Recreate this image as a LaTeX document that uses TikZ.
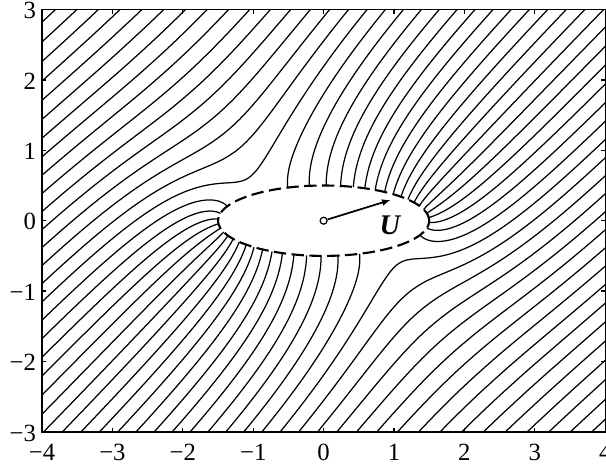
\documentclass[tikz,border=0pt]{standalone}
\usepackage{fontspec}
\setmainfont{Liberation Serif}
\usetikzlibrary{arrows.meta}

%dati del moto: V=e^{i45}, U=3e^{i17.2}, ellisse a=1.5 b=0.5
\pgfmathsetmacro\Uang{17.2}
\pgfmathsetmacro\Ure{3*cos(\Uang)}
\pgfmathsetmacro\Uim{3*sin(\Uang)}
\pgfmathsetmacro\Cre{0.70711-\Ure+0.5*\Ure}
\pgfmathsetmacro\Cim{0.70711-\Uim-0.5*\Uim}
\pgfmathsetmacro\Cq{\Cre*\Cre+\Cim*\Cim}
\pgfmathsetmacro\Ek{-2*0.70711*(\Cim+\Cre)}
\pgfmathsetmacro\Kq{1+\Cq+\Ek}
\def\rmax{5.6}

\tikzset{
  flowline/.style={line width=0.5pt},
  frame/.style={line width=0.5pt},
  ticklab/.style={inner sep=0pt, font=\fontsize{10}{12}\selectfont},
  body/.style={line width=0.85pt, dash pattern=on 5pt off 2.2pt},
  vec/.style={line width=0.7pt, -{Latex[length=3.6pt,width=2.8pt]}},
  declare function={
    PP(\w)=-0.70711*\w+\Cim/\w;
    QQ(\w)=0.70711*\w-\Cre/\w;
    th(\w)=atan2(QQ(\w),PP(\w))+\br*acos(max(-1,min(1,\lev/sqrt(\w*\w+\Cq/(\w*\w)+\Ek))));
  }
}

\begin{document}
\begin{tikzpicture}
    \useasboundingbox (-4.597,-3.513) rectangle (4.011,3.135);
    %linee di corrente
    \begin{scope}
    \clip (-4,-3) rectangle (4,3);
    \foreach \k in {-25,...,25}{
      \pgfmathsetmacro\lev{0.2*\k}
      \pgfmathsetmacro\levq{\lev*\lev}
      \ifdim\levq pt>\Kq pt
        \pgfmathsetmacro\rz{sqrt(((\levq-\Ek)+sqrt((\levq-\Ek)^2-4*\Cq))/2)}
      \else
        \def\rz{1}
      \fi
      \pgfmathsetmacro\T{sqrt(\rmax-\rz)}
      \foreach \br in {-1,1}{
        \draw[flowline] plot[domain=0:\T, samples=60, variable=\t]
          ({th(\rz+\t*\t)}:{\rz+\t*\t+0.5/(\rz+\t*\t)} and {\rz+\t*\t-0.5/(\rz+\t*\t)});
      }
    }
    \end{scope}
    %ellisse
    \draw[body] (0,0) ellipse [x radius=1.5, y radius=0.5];
    %velocita
    \node[circle, draw, fill=white, line width=0.5pt, inner sep=0pt, minimum size=2.8pt] (O) at (0,0) {};
    \coordinate (Utip) at (\Uang:1);
    \draw[vec] (O) -- (Utip);
    \node[font=\fontsize{11.5}{13}\selectfont\bfseries\itshape] (Ulab) at (0.94,-0.07) {U};
    %cornice e tacche
    \draw[frame] (-4,-3) rectangle (4,3);
    \foreach \x/\lab in {-4/−4,-3/−3,-2/−2,-1/−1,0/0,1/1,2/2,3/3,4/4}{
      \draw[frame] (\x,-3) -- ++(0,0.06) (\x,3) -- ++(0,-0.06);
      \node[ticklab, anchor=base] (xl\x) at (\x,-3.4) {\lab};
    }
    \foreach \y/\lab in {-3/−3,-2/−2,-1/−1,0/0,1/1,2/2,3/3}{
      \draw[frame] (-4,\y) -- ++(0.06,0) (4,\y) -- ++(-0.06,0);
      \node[ticklab, anchor=base east] (yl\y) at (-4.08,\y-0.13) {\lab};
    }
\end{tikzpicture}
\end{document}
